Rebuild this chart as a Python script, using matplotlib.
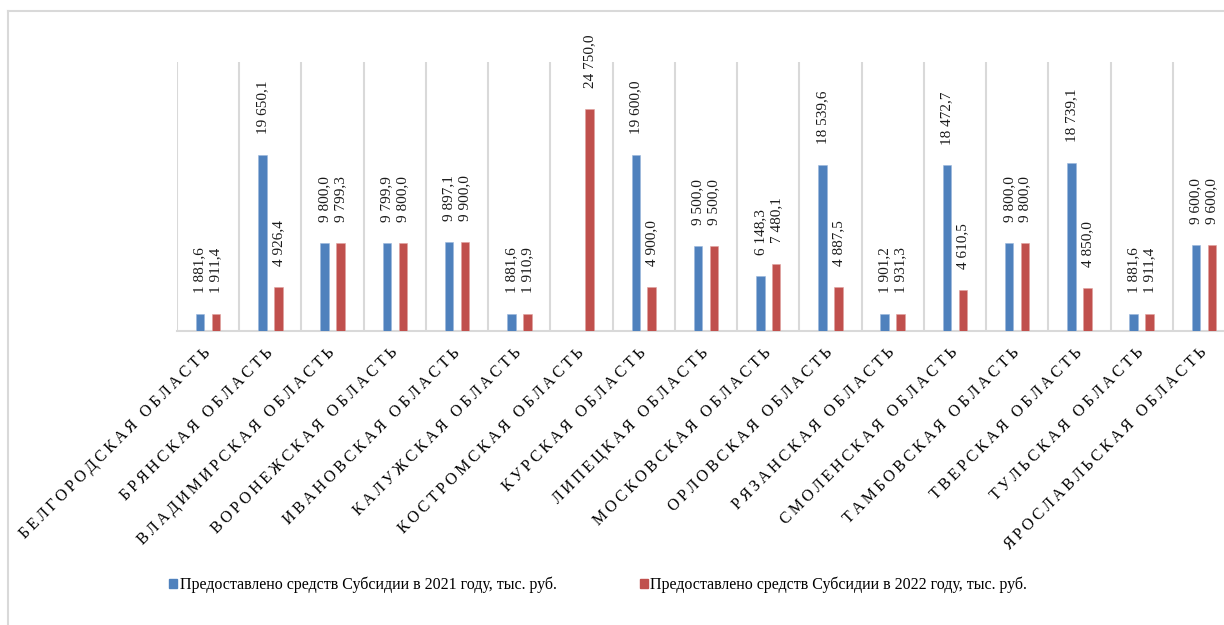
import numpy as np
import matplotlib
matplotlib.use("Agg")
import matplotlib.pyplot as plt
from matplotlib.lines import Line2D

plt.rcParams['font.family'] = ['Liberation Serif', 'DejaVu Serif']

regions = ["БЕЛГОРОДСКАЯ ОБЛАСТЬ", "БРЯНСКАЯ ОБЛАСТЬ", "ВЛАДИМИРСКАЯ ОБЛАСТЬ",
           "ВОРОНЕЖСКАЯ ОБЛАСТЬ", "ИВАНОВСКАЯ ОБЛАСТЬ", "КАЛУЖСКАЯ ОБЛАСТЬ",
           "КОСТРОМСКАЯ ОБЛАСТЬ", "КУРСКАЯ ОБЛАСТЬ", "ЛИПЕЦКАЯ ОБЛАСТЬ",
           "МОСКОВСКАЯ ОБЛАСТЬ", "ОРЛОВСКАЯ ОБЛАСТЬ", "РЯЗАНСКАЯ ОБЛАСТЬ",
           "СМОЛЕНСКАЯ ОБЛАСТЬ", "ТАМБОВСКАЯ ОБЛАСТЬ", "ТВЕРСКАЯ ОБЛАСТЬ",
           "ТУЛЬСКАЯ ОБЛАСТЬ", "ЯРОСЛАВЛЬСКАЯ ОБЛАСТЬ"]
subsidy_2021 = [1881.6, 19650.1, 9800.0, 9799.9, 9897.1, 1881.6, None, 19600.0,
                9500.0, 6148.3, 18539.6, 1901.2, 18472.7, 9800.0, 18739.1, 1881.6, 9600.0]
subsidy_2022 = [1911.4, 4926.4, 9799.3, 9800.0, 9900.0, 1910.9, 24750.0, 4900.0,
                9500.0, 7480.1, 4887.5, 1931.3, 4610.5, 9800.0, 4850.0, 1911.4, 9600.0]
series_names = ["Предоставлено средств Субсидии в 2021 году, тыс. руб.",
                "Предоставлено средств Субсидии в 2022 году, тыс. руб."]

BLUE = "#4f81bd"
RED = "#c0504d"
GRID = "#d9d9d9"

fig = plt.figure(figsize=(12.24, 6.25), dpi=100)
# outer chart frame (top and left visible)
fig.add_artist(Line2D([8/1224, 8/1224], [0, 1 - 11/625], transform=fig.transFigure, color=GRID, lw=1.5))
fig.add_artist(Line2D([8/1224, 1], [1 - 11/625, 1 - 11/625], transform=fig.transFigure, color=GRID, lw=1.5))

left = 177/1224
right = 1235/1224
ax = fig.add_axes([left, 1 - 331/625, right - left, (331 - 62)/625])

n = len(regions)
x = np.arange(n)
w = 0.137
off = 0.128

def fmt(v):
    s = f"{v:,.1f}"
    return s.replace(",", " ").replace(".", ",")

v21 = np.array([np.nan if v is None else v for v in subsidy_2021])
v22 = np.array(subsidy_2022)
ax.bar(x - off, np.nan_to_num(v21), w, color=BLUE, edgecolor="#9bb7dc", linewidth=0.4, zorder=3)
ax.bar(x + off, v22, w, color=RED, edgecolor="#e0a09e", linewidth=0.4, zorder=3)

for xi, v in zip(x, v21):
    if not np.isnan(v):
        ax.annotate(fmt(v), (xi - off, v), xytext=(0, 15), textcoords="offset points",
                    rotation=90, ha="center", va="bottom", fontsize=11, color="#1a1a1a")
for xi, v in zip(x, v22):
    ax.annotate(fmt(v), (xi + off, v), xytext=(0, 15), textcoords="offset points",
                rotation=90, ha="center", va="bottom", fontsize=11, color="#1a1a1a")

ax.set_xlim(-0.5, n - 0.5)
ax.set_ylim(0, 30000)
for b in np.arange(-0.5, n, 1.0):
    ax.axvline(b, color=GRID, lw=1.5, zorder=1)
for s in ["top", "right", "left"]:
    ax.spines[s].set_visible(False)
ax.spines["bottom"].set_color(GRID)
ax.spines["bottom"].set_linewidth(1.5)
ax.set_yticks([])
ax.set_xticks(x)

def spaced(s):
    return "\u2009".join(s)

ax.set_xticklabels([spaced(r) for r in regions], rotation=45, ha="right", va="center",
                   rotation_mode="anchor", fontsize=11.5)
ax.tick_params(axis="x", length=0, pad=14)

handles = [plt.Rectangle((0, 0), 1, 1, color=BLUE), plt.Rectangle((0, 0), 1, 1, color=RED)]
fig.legend(handles, series_names, loc="center", bbox_to_anchor=(598/1224, 1 - 585/625),
           ncol=2, frameon=False, fontsize=11.5, handlelength=0.5, handleheight=0.5,
           handletextpad=0.15, columnspacing=5.2)

fig.savefig("out.png", dpi=100)
